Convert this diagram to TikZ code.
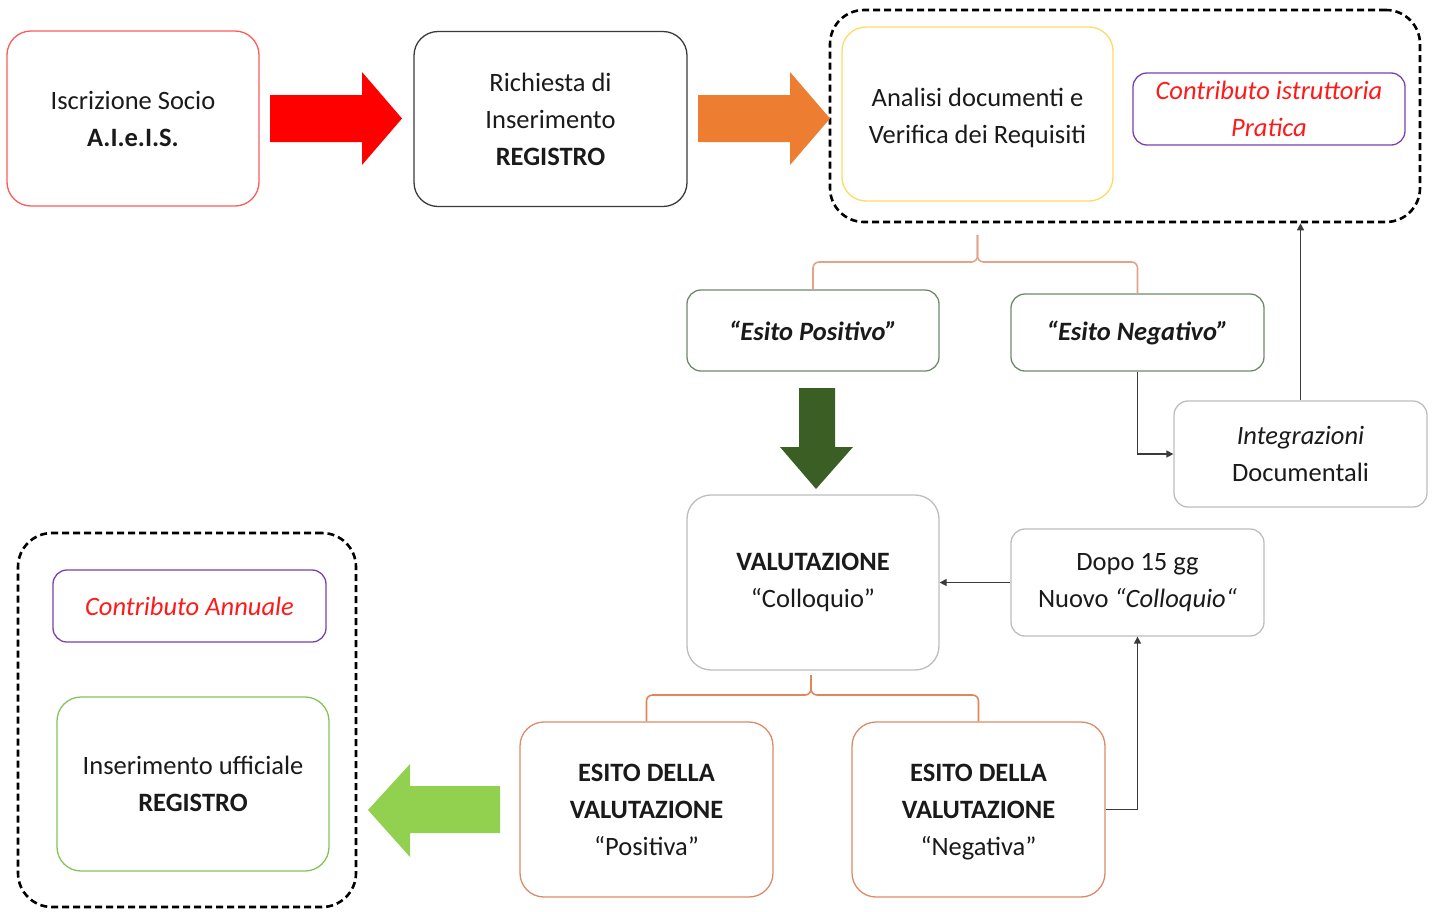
\documentclass[tikz,border=0pt]{standalone}
\usepackage{fontspec}
\setmainfont{Carlito}
\usetikzlibrary{arrows.meta}
\definecolor{txt}{HTML}{1A1A1A}
\definecolor{cred}{HTML}{FF5A5A}
\definecolor{cdark}{HTML}{3A3A3A}
\definecolor{cyel}{HTML}{FFD966}
\definecolor{cpur}{HTML}{7B3FB0}
\definecolor{cgreygreen}{HTML}{6F8A6A}
\definecolor{cgrey}{HTML}{BDBDBD}
\definecolor{corbox}{HTML}{DD8A66}
\definecolor{cgreen}{HTML}{86C25A}
\definecolor{brace1}{HTML}{E2A488}
\definecolor{brace2}{HTML}{E0875A}
\definecolor{arrred}{HTML}{FF0000}
\definecolor{arror}{HTML}{ED7D31}
\definecolor{arrdkg}{HTML}{3B5E25}
\definecolor{arrlg}{HTML}{92D050}
\definecolor{redtxt}{HTML}{FF1A1A}
\begin{document}
\begin{tikzpicture}[x=1pt,y=-1pt,
  box/.style={draw, line width=1.3pt, align=center, inner sep=0pt, text=txt,
    font=\fontsize{26.5}{37}\selectfont, rounded corners=24pt},
  smallbox/.style={box, rounded corners=14pt},
  boxtext/.style={align=center, inner sep=0pt, text=txt, font=\fontsize{26.5}{37}\selectfont},
  grp/.style={draw=black, line width=2.6pt, dash pattern=on 7pt off 4pt, rounded corners=34pt, inner sep=0pt},
  conn/.style={draw=cdark, line width=1.4pt, -{Triangle[length=7pt,width=7pt]}},
  bracestyle/.style={line width=1.6pt, rounded corners=6pt}
]
\useasboundingbox (0,0) rectangle (1434,911);

% groups
\node[grp, minimum width=590pt, minimum height=212pt] (grp1) at (1125,116) {};
\node[grp, minimum width=338pt, minimum height=374pt] (grp2) at (187,720) {};

% top row
\node[box, draw=cred, minimum width=252pt, minimum height=175pt] (isc) at (133,118.5)
  {Iscrizione Socio\\\textbf{A.I.e.I.S.}};
\node[box, draw=cdark, minimum width=273pt, minimum height=175pt] (ric) at (550.5,119)
  {Richiesta di\\Inserimento\\\textbf{REGISTRO}};
\node[box, draw=cyel, minimum width=271pt, minimum height=174pt,
  label={[boxtext, yshift=-4pt]center:{Analisi documenti e\\Verifica dei Requisiti}}] (ana) at (977.5,114) {};
\node[smallbox, draw=cpur, text=redtxt, minimum width=272pt, minimum height=72pt] (cont) at (1269,109)
  {\itshape Contributo istruttoria\\\itshape Pratica};

% block arrows top
\fill[arrred] (270,95) -- (362,95) -- (362,72) -- (402,118.5) -- (362,165) -- (362,142) -- (270,142) -- cycle;
\fill[arror] (698,95) -- (790,95) -- (790,72) -- (830,118.5) -- (790,165) -- (790,142) -- (698,142) -- cycle;

% esiti
\node[smallbox, draw=cgreygreen, minimum width=252pt, minimum height=81pt] (pos) at (813,330.5)
  {\bfseries\itshape “Esito Positivo”};
\node[smallbox, draw=cgreygreen, minimum width=253pt, minimum height=77pt] (neg) at (1137.5,332.5)
  {\bfseries\itshape “Esito Negativo”};

% brace 1
\coordinate (b1) at (977.5,262);
\draw[brace1, bracestyle] (pos.north) |- (b1) -- (977.5,235);
\draw[brace1, bracestyle] (neg.north) |- (b1) -- (977.5,235);

% integrazioni
\node[smallbox, draw=cgrey, minimum width=253pt, minimum height=106pt] (integ) at (1300.5,454)
  {\itshape Integrazioni\\Documentali};
\draw[conn] (neg.south) |- (integ.west);
\draw[conn] (integ.north) -- (integ.north |- grp1.south);

% dark green arrow down
\fill[arrdkg] (799,388) -- (835,388) -- (835,447) -- (853,447) -- (816,489) -- (780,447) -- (799,447) -- cycle;

% valutazione
\node[box, draw=cgrey, minimum width=252pt, minimum height=175pt] (val) at (813,582.5)
  {\textbf{VALUTAZIONE}\\“Colloquio”};
\node[smallbox, draw=cgrey, minimum width=253pt, minimum height=107pt] (dopo) at (1137.5,582.5)
  {Dopo 15 gg\\Nuovo \textit{“Colloquio“}};
\draw[conn] (dopo.west) -- (val.east);

% esiti valutazione
\node[box, draw=corbox, minimum width=253pt, minimum height=175pt,
  label={[boxtext, yshift=-3pt]center:{\textbf{ESITO DELLA}\\\textbf{VALUTAZIONE}\\“Positiva”\vphantom{g}}}] (esp) at (646.5,809.5) {};
\node[box, draw=corbox, minimum width=253pt, minimum height=175pt,
  label={[boxtext, yshift=-3pt]center:{\textbf{ESITO DELLA}\\\textbf{VALUTAZIONE}\\“Negativa”}}] (esn) at (978.5,809.5) {};
\coordinate (b2) at (811,695);
\draw[brace2, bracestyle] (esp.north) |- (b2) -- (811,675);
\draw[brace2, bracestyle] (esn.north) |- (b2) -- (811,675);
\draw[conn] (esn.east) -| (dopo.south);

% light green arrow left
\fill[arrlg] (500,786) -- (410,786) -- (410,764) -- (368,810) -- (410,857) -- (410,833) -- (500,833) -- cycle;

% bottom-left group content
\node[smallbox, draw=cpur, text=redtxt, minimum width=273pt, minimum height=72pt] (ann) at (189.5,606)
  {\itshape Contributo Annuale};
\node[box, draw=cgreen, minimum width=272pt, minimum height=174pt] (ins) at (193,784)
  {Inserimento ufficiale\\\textbf{REGISTRO}};
\end{tikzpicture}
\end{document}
